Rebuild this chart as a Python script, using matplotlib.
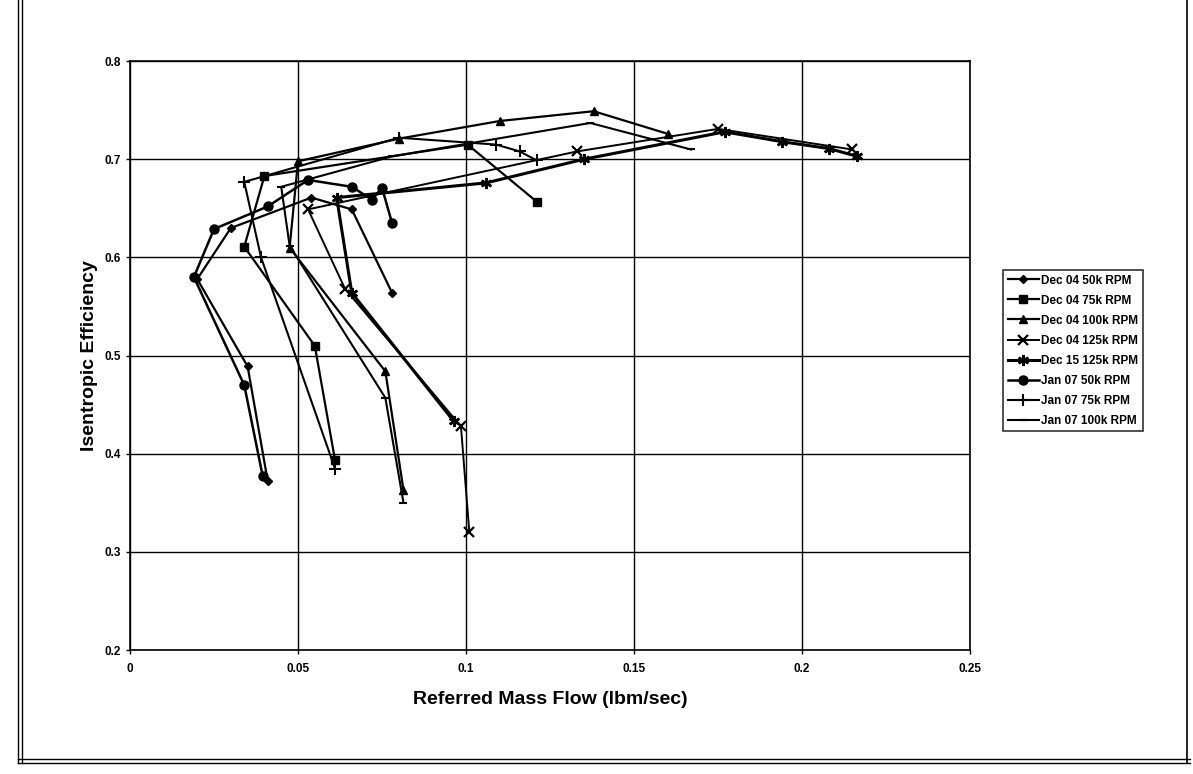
import matplotlib
matplotlib.use("Agg")
import matplotlib.pyplot as plt
from matplotlib.lines import Line2D

# series (referred mass flow, isentropic efficiency)
dec04_50k_x = [0.078, 0.066, 0.054, 0.030, 0.020, 0.035, 0.041]
dec04_50k_y = [0.564, 0.649, 0.661, 0.630, 0.578, 0.489, 0.372]

dec04_75k_x = [0.121, 0.1005, 0.040, 0.034, 0.055, 0.061]
dec04_75k_y = [0.657, 0.715, 0.683, 0.611, 0.510, 0.394]

dec04_100k_x = [0.160, 0.138, 0.110, 0.080, 0.050, 0.0475, 0.076, 0.0814]
dec04_100k_y = [0.726, 0.749, 0.739, 0.721, 0.698, 0.610, 0.484, 0.363]

dec04_125k_x = [0.215, 0.175, 0.133, 0.053, 0.064, 0.0985, 0.101]
dec04_125k_y = [0.710, 0.731, 0.708, 0.649, 0.568, 0.428, 0.320]

dec15_125k_x = [0.2165, 0.208, 0.194, 0.177, 0.135, 0.106, 0.0615, 0.066, 0.0964]
dec15_125k_y = [0.703, 0.711, 0.718, 0.728, 0.700, 0.676, 0.661, 0.564, 0.433]

jan07_50k_x = [0.078, 0.075, 0.072, 0.066, 0.053, 0.041, 0.025, 0.019, 0.034, 0.0395]
jan07_50k_y = [0.635, 0.671, 0.659, 0.672, 0.679, 0.652, 0.629, 0.580, 0.470, 0.377]

jan07_75k_x = [0.121, 0.116, 0.109, 0.080, 0.034, 0.039, 0.061]
jan07_75k_y = [0.699, 0.708, 0.715, 0.722, 0.677, 0.600, 0.385]

jan07_100k_x = [0.167, 0.137, 0.078, 0.045, 0.0475, 0.076, 0.0814]
jan07_100k_y = [0.710, 0.737, 0.703, 0.672, 0.612, 0.457, 0.350]

x_ticks = [0, 0.05, 0.1, 0.15, 0.2, 0.25]
x_tick_labels = ["0", "0.05", "0.1", "0.15", "0.2", "0.25"]
y_ticks = [0.2, 0.3, 0.4, 0.5, 0.6, 0.7, 0.8]
y_tick_labels = ["0.2", "0.3", "0.4", "0.5", "0.6", "0.7", "0.8"]

plt.rcParams["font.family"] = ["Liberation Sans", "DejaVu Sans"]

fig = plt.figure(figsize=(11.93, 7.74), dpi=100)
ax = fig.add_axes([0.109, 0.160, 0.704, 0.761])

series = [
    (dec04_50k_x, dec04_50k_y, "Dec 04 50k RPM", dict(marker="D", ms=4.5, lw=1.6)),
    (dec04_75k_x, dec04_75k_y, "Dec 04 75k RPM", dict(marker="s", ms=6, lw=1.6)),
    (dec04_100k_x, dec04_100k_y, "Dec 04 100k RPM", dict(marker="^", ms=6, lw=1.6)),
    (dec04_125k_x, dec04_125k_y, "Dec 04 125k RPM", dict(marker="x", ms=7, mew=1.6, lw=1.4)),
    (dec15_125k_x, dec15_125k_y, "Dec 15 125k RPM", dict(marker=(6, 2, 0), ms=8, mew=1.8, lw=2.2)),
    (jan07_50k_x, jan07_50k_y, "Jan 07 50k RPM", dict(marker="o", ms=6.5, lw=1.8)),
    (jan07_75k_x, jan07_75k_y, "Jan 07 75k RPM", dict(marker="+", ms=8, mew=1.5, lw=1.5)),
    (jan07_100k_x, jan07_100k_y, "Jan 07 100k RPM", dict(marker="_", ms=6, mew=1.5, lw=1.5)),
]
for xs, ys, label, style in series:
    ax.plot(xs, ys, color="black", mfc="black", mec="black", label=label, **style)

ax.set_xlim(0, 0.25)
ax.set_ylim(0.2, 0.8)
ax.set_xticks(x_ticks)
ax.set_xticklabels(x_tick_labels)
ax.set_yticks(y_ticks)
ax.set_yticklabels(y_tick_labels)
ax.grid(True, color="black", linewidth=1.0)
ax.set_axisbelow(True)
for sp in ax.spines.values():
    sp.set_color("black")
    sp.set_linewidth(1.2)
ax.tick_params(axis="both", direction="out", length=3, width=1, colors="black",
               labelsize=8.5)
for lbl in ax.get_xticklabels() + ax.get_yticklabels():
    lbl.set_fontweight("bold")
ax.tick_params(axis="x", pad=6)

ax.set_xlabel("Referred Mass Flow (lbm/sec)", fontsize=14, fontweight="bold", labelpad=12)
ax.set_ylabel("Isentropic Efficiency", fontsize=14, fontweight="bold")
ax.yaxis.set_label_coords(-0.038, 0.50)

leg = ax.legend(loc="upper left", bbox_to_anchor=(0.836, 0.659),
                bbox_transform=fig.transFigure, fontsize=8.5, frameon=True,
                fancybox=False, edgecolor="black", handlelength=2.6,
                borderpad=0.4, labelspacing=0.68, handletextpad=0.2)
leg.get_frame().set_linewidth(1.2)
for t in leg.get_texts():
    t.set_fontweight("bold")

# scanned page frame (double line on left, bottom, right)
W, H = 1193.0, 774.0
for xp in (18, 22):
    fig.add_artist(Line2D([xp / W, xp / W], [1 - 763 / H, 1.0], color="black", lw=1.0))
for yp in (759, 763):
    fig.add_artist(Line2D([18 / W, 1190 / W], [1 - yp / H, 1 - yp / H], color="black", lw=1.0))
fig.add_artist(Line2D([1187 / W, 1187 / W], [1 - 763 / H, 1.0], color="black", lw=1.2))

fig.savefig("out.png", dpi=100, facecolor="white")
